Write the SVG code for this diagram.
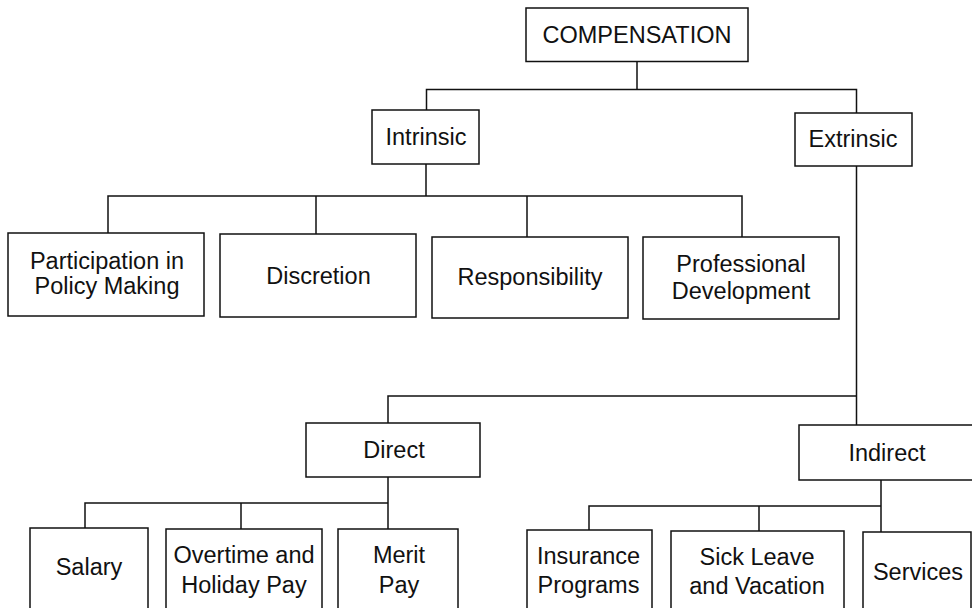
<svg xmlns="http://www.w3.org/2000/svg" width="972" height="608" viewBox="0 0 972 608">
<style>
.box{fill:#fff;stroke:#111;stroke-width:1.5}
.ln{fill:none;stroke:#111;stroke-width:1.5}
text{font-family:"Liberation Sans",Arial,sans-serif;font-size:23.5px;fill:#111;text-anchor:middle}
</style>
<rect width="972" height="608" fill="#fff"/>
<g id="connectors">
<path class="ln" d="M637 61V89.5M426.5 110V89.5H856.5V113"/>
<path class="ln" d="M426 164V196M108 233V196H742V237M316 196V234M527 196V237"/>
<path class="ln" d="M856.5 166V425M388 423V396H856.5"/>
<path class="ln" d="M388 477V503M85 528V503H388V529M241 503V529"/>
<path class="ln" d="M881 480V506M589 530V506H881V532M759 506V531"/>
</g>
<g id="compensation"><rect class="box" x="526" y="8" width="222" height="53.5"/><text x="637" y="43">COMPENSATION</text></g>
<g id="intrinsic"><rect class="box" x="372" y="110" width="107" height="54"/><text x="426" y="145">Intrinsic</text></g>
<g id="extrinsic"><rect class="box" x="795" y="113" width="117" height="53"/><text x="853" y="147">Extrinsic</text></g>
<g id="participation"><rect class="box" x="8" y="233" width="196" height="83"/><text x="107" y="269">Participation in</text><text x="107" y="294">Policy Making</text></g>
<g id="discretion"><rect class="box" x="220" y="234" width="196" height="83"/><text x="318.5" y="284">Discretion</text></g>
<g id="responsibility"><rect class="box" x="432" y="237" width="196" height="81"/><text x="530" y="285">Responsibility</text></g>
<g id="professional"><rect class="box" x="643" y="237" width="196" height="82"/><text x="741" y="272">Professional</text><text x="741" y="299">Development</text></g>
<g id="direct"><rect class="box" x="306" y="423" width="174" height="54"/><text x="394" y="458">Direct</text></g>
<g id="indirect"><rect class="box" x="799" y="425" width="176" height="55"/><text x="887" y="461">Indirect</text></g>
<g id="salary"><rect class="box" x="30" y="528" width="118" height="95"/><text x="89" y="575">Salary</text></g>
<g id="overtime"><rect class="box" x="166" y="529" width="156" height="95"/><text x="244" y="563">Overtime and</text><text x="244" y="593">Holiday Pay</text></g>
<g id="merit"><rect class="box" x="338" y="529" width="120" height="95"/><text x="399" y="563">Merit</text><text x="399" y="593">Pay</text></g>
<g id="insurance"><rect class="box" x="527" y="530" width="125" height="95"/><text x="588.5" y="564">Insurance</text><text x="588.5" y="593">Programs</text></g>
<g id="sickleave"><rect class="box" x="671" y="531" width="173" height="95"/><text x="757" y="565">Sick Leave</text><text x="757" y="594">and Vacation</text></g>
<g id="services"><rect class="box" x="863" y="532" width="108" height="95"/><text x="918" y="580">Services</text></g>
</svg>
